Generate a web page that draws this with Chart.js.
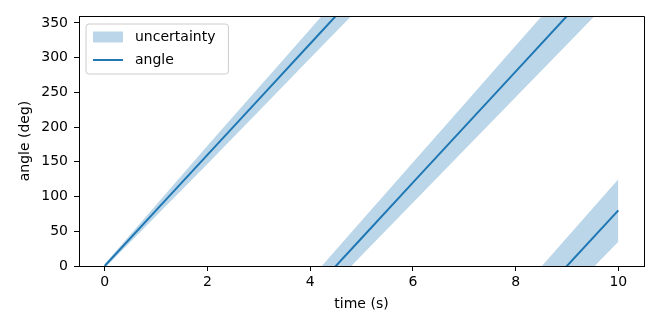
<!DOCTYPE html>
<html>
<head>
<meta charset="utf-8">
<script src="https://cdn.jsdelivr.net/npm/chart.js@4.4.1/dist/chart.umd.min.js"></script>
<style>
  html, body { margin: 0; padding: 0; background: #fff; }
  #wrap { width: 660px; height: 330px; }
</style>
</head>
<body>
<div id="wrap"><canvas id="angleChart" width="660" height="330"></canvas></div>
<script>
// time (s) and unwrapped angle (deg)
const times = [0, 1, 2, 3, 4, 5, 6, 7, 8, 9, 10];
const angle = [0, 80, 160, 240, 320, 400, 480, 560, 640, 720, 800];
const upper = [3, 88, 173, 257, 341, 425, 509, 593, 677, 761, 845];
const lower = [-3, 72, 147, 223, 299, 375, 451, 527, 603, 679, 755];
// angle is shown wrapped to 0..360, so each curve gets drawn once per turn
const turns = [360, 0, -360, -720];
const xTicks = [0, 2, 4, 6, 8, 10];
const yTicks = [0, 50, 100, 150, 200, 250, 300, 350];

const FONT = 'DejaVu Sans';
const blue = '#1f77b4';
const bandFill = 'rgba(31, 119, 180, 0.3)';

const shifted = (vals, k) => times.map((t, i) => ({ x: t, y: vals[i] + k }));

const datasets = [];
turns.forEach(k => {
    datasets.push({
        label: 'uncertainty', data: shifted(upper, k), fill: '+1',
        backgroundColor: bandFill, borderColor: 'transparent', borderWidth: 0,
        pointRadius: 0, order: 2, clip: 0
    });
    datasets.push({
        label: 'uncertainty', data: shifted(lower, k), fill: false,
        borderColor: 'transparent', borderWidth: 0, pointRadius: 0, order: 2, clip: 0
    });
});
turns.forEach(k => {
    datasets.push({
        label: 'angle', data: shifted(angle, k), fill: false,
        borderColor: blue, borderWidth: 2, pointRadius: 0, order: 1, clip: 0
    });
});

// top / right spines like matplotlib
const frame = {
    id: 'frame',
    afterDatasetsDraw(chart) {
        const { ctx, chartArea: a } = chart;
        ctx.save();
        ctx.strokeStyle = '#000';
        ctx.lineWidth = 1;
        ctx.beginPath();
        ctx.moveTo(Math.round(a.left) + 0.5, Math.round(a.top) + 0.5);
        ctx.lineTo(Math.round(a.right) + 0.5, Math.round(a.top) + 0.5);
        ctx.lineTo(Math.round(a.right) + 0.5, Math.round(a.bottom) + 0.5);
        ctx.stroke();
        ctx.restore();
    }
};

// legend in the upper left corner of the axes, with a rounded frame
const insetLegend = {
    id: 'insetLegend',
    afterDraw(chart) {
        const { ctx, chartArea: a } = chart;
        const seen = {};
        const items = [];
        chart.data.datasets.forEach(ds => {
            if (seen[ds.label]) return;
            seen[ds.label] = true;
            items.push(ds);
        });
        ctx.save();
        ctx.font = '14px "' + FONT + '"';
        const textW = Math.max(...items.map(d => ctx.measureText(d.label).width));
        const x0 = a.left + 7, y0 = a.top + 8;
        const w = 49 + textW + 13, h = 50, r = 3;
        ctx.beginPath();
        ctx.moveTo(x0 + r, y0);
        ctx.lineTo(x0 + w - r, y0);
        ctx.arcTo(x0 + w, y0, x0 + w, y0 + r, r);
        ctx.lineTo(x0 + w, y0 + h - r);
        ctx.arcTo(x0 + w, y0 + h, x0 + w - r, y0 + h, r);
        ctx.lineTo(x0 + r, y0 + h);
        ctx.arcTo(x0, y0 + h, x0, y0 + h - r, r);
        ctx.lineTo(x0, y0 + r);
        ctx.arcTo(x0, y0, x0 + r, y0, r);
        ctx.closePath();
        ctx.fillStyle = 'rgba(255, 255, 255, 0.8)';
        ctx.fill();
        ctx.strokeStyle = '#cccccc';
        ctx.lineWidth = 1;
        ctx.stroke();

        items.forEach((ds, i) => {
            const cy = y0 + 13 + i * 23;
            if (ds.fill) {
                ctx.fillStyle = ds.backgroundColor;
                ctx.fillRect(x0 + 7, cy - 5.5, 30, 11);
            } else {
                ctx.strokeStyle = ds.borderColor;
                ctx.lineWidth = 2;
                ctx.beginPath();
                ctx.moveTo(x0 + 7, cy);
                ctx.lineTo(x0 + 37, cy);
                ctx.stroke();
            }
            ctx.fillStyle = '#000';
            ctx.textBaseline = 'middle';
            ctx.fillText(ds.label, x0 + 49, cy);
        });
        ctx.restore();
    }
};

const tickFont = { size: 14, family: FONT };

new Chart(document.getElementById('angleChart'), {
    type: 'line',
    data: { datasets },
    options: {
        responsive: false,
        animation: false,
        layout: { padding: { top: 16, right: 16, left: 0, bottom: 0 } },
        plugins: {
            legend: { display: false },
            tooltip: { enabled: false },
            filler: { drawTime: 'beforeDatasetsDraw' }
        },
        scales: {
            x: {
                type: 'linear', min: -0.5, max: 10.5,
                afterBuildTicks: s => { s.ticks = xTicks.map(v => ({ value: v })); },
                afterFit: s => { s.height = 64; },
                ticks: { color: '#000', font: tickFont, padding: 3, maxRotation: 0, autoSkip: false },
                grid: { drawOnChartArea: false, drawTicks: true, tickLength: 5, color: '#000' },
                border: { display: true, color: '#000', width: 1 },
                title: { display: true, text: 'time (s)', color: '#000', font: tickFont, padding: { top: 0, bottom: 17 } }
            },
            y: {
                type: 'linear', min: 0, max: 360,
                afterBuildTicks: s => { s.ticks = yTicks.map(v => ({ value: v })); },
                afterFit: s => { s.width = 79; },
                ticks: { color: '#000', font: tickFont, padding: 6, autoSkip: false },
                grid: { drawOnChartArea: false, drawTicks: true, tickLength: 5, color: '#000' },
                border: { display: true, color: '#000', width: 1 },
                title: { display: true, text: 'angle (deg)', color: '#000', font: tickFont, padding: { top: 17, bottom: 0 } }
            }
        }
    },
    plugins: [frame, insetLegend]
});
</script>
</body>
</html>
